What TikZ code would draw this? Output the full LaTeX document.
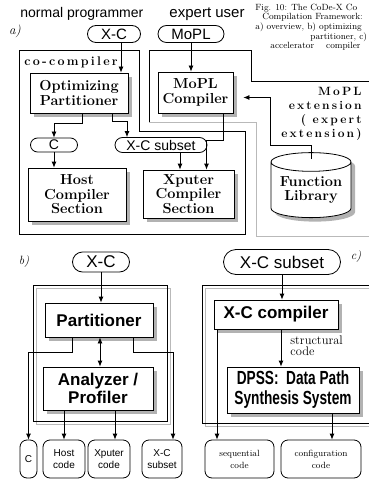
\documentclass[tikz,border=0pt]{standalone}
\usepackage{fontspec}
\setsansfont{Liberation Sans}
\newfontfamily\spacedfont{Latin Modern Roman}[LetterSpace=18]
\usepackage{tikz}
\usetikzlibrary{shapes,shapes.geometric,shapes.misc,shadows,arrows.meta}

\begin{document}
\begin{tikzpicture}[x=1pt,y=-1pt,>={Latex[length=6pt,width=5pt]},line width=0.8pt]
	\tikzset{pill/.style={draw,fill=white,rounded rectangle,inner sep=0pt,font=\sffamily\fontsize{15}{15}\selectfont}}
	\tikzset{outbox/.style={draw,fill=white,rounded corners=7pt,inner sep=0pt,align=center,minimum height=38pt}}
	\tikzset{serifbox/.style={draw,fill=white,inner sep=0pt,align=center,font=\bfseries\fontsize{14.5}{14.5}\selectfont,drop shadow={shadow xshift=4pt,shadow yshift=-4pt,fill=gray!60,opacity=1}}}
	\tikzset{sansbox/.style={serifbox,font=\sffamily\bfseries\fontsize{17}{18}\selectfont}}
	\tikzset{spaced/.style={inner sep=0pt,font=\spacedfont\bfseries\fontsize{12}{14}\selectfont}}
	\tikzset{frameshadow/.style={gray!55,line width=1pt}}
	\useasboundingbox (0,0) rectangle (368,481);

	% a) overview
	\node[anchor=west,inner sep=0pt,font=\sffamily\fontsize{14}{14}\selectfont] (np) at (20,14) {normal programmer};
	\node[font=\sffamily\fontsize{15}{15}\selectfont] (eu) at (207,14) {expert user};
	\node[anchor=north west,inner sep=0pt,align=left,font=\fontsize{9}{7.6}\selectfont] (cap) at (255,4) {Fig. 10: The CoDe-X Co\\
		\hspace*{7pt}Compilation Framework:\\
		a) overview, b) optimizing\\
		\hspace*{55pt}partitioner, c)\\
		\hspace*{15pt}accelerator\hspace{12pt}compiler};
	\node[font=\itshape\fontsize{13}{13}\selectfont] (la) at (15,31) {a)};
	\node[pill,minimum width=53pt,minimum height=17pt] (xca) at (114,34) {X-C};
	\node[pill,minimum width=66pt,minimum height=17pt] (mopl) at (191,34) {MoPL};

	\draw (19,50) -- (139,50) -- (139,131) -- (245,131) -- (245,234) -- (19,234) -- cycle;
	\draw (149,123) -- (149,50) -- (251,50) -- (251,81) -- (370,81);
	\draw[frameshadow] (149,123) -- (256,123) -- (256,236) -- (370,236);
	\node[spaced,anchor=west,font=\spacedfont\bfseries\fontsize{12.5}{14}\selectfont] (cc) at (24,62) {co-compiler};

	\node[serifbox,minimum width=98pt,minimum height=40pt] (opt) at (79,93) {Optimizing\\Partitioner};
	\node[serifbox,minimum width=75pt,minimum height=41pt] (mcomp) at (195.5,92.5) {MoPL\\Compiler};
	\node[pill,font=\sffamily\fontsize{14}{14}\selectfont,minimum width=47pt,minimum height=14pt] (cpill) at (54,145) {C};
	\node[pill,font=\sffamily\fontsize{14}{14}\selectfont,minimum width=92pt,minimum height=15pt] (xcsub) at (161,145) {X-C subset};
	\node[serifbox,minimum width=98pt,minimum height=53pt] (host) at (77,194.5) {Host\\Compiler\\Section};
	\node[serifbox,minimum width=91pt,minimum height=48pt] (xput) at (188.5,194) {Xputer\\Compiler\\Section};
	\node[spaced,anchor=north east,align=right] (ext) at (362,87) {MoPL\\extension\\( expert\\extension)};
	\node[draw,fill=white,cylinder,shape border rotate=90,aspect=0.3,minimum width=80pt,minimum height=65pt,inner sep=0pt,align=center,font=\bfseries\fontsize{14.5}{14.5}\selectfont,drop shadow={shadow xshift=4pt,shadow yshift=-4pt,fill=gray!60,opacity=1}] (flib) at (311,190) {Function\\Library};
	\coordinate (bend) at (270,145);

	\draw[->] ([xshift=7pt]xca.south) -- ([xshift=7pt]xca.south |- opt.north);
	\draw[->] (mopl.south) -- (mopl.south |- mcomp.north);
	\draw[->] ([xshift=3pt]opt.south) -- ++(0,10) -| (cpill.north);
	\draw[->] ([xshift=33pt]opt.south) -- ++(0,8) -| ([xshift=-34pt]xcsub.north);
	\draw[->] (cpill.south) -- (cpill.south |- host.north);
	\draw[->] ([xshift=19pt]xcsub.south) -- ([xshift=19pt]xcsub.south |- xput.north);
	\draw[->] ([xshift=28pt]mcomp.south) -- ++(0,27) -| ([xshift=18pt]xput.north);
	\draw[->] ([yshift=-7pt]flib.north) |- (bend) |- ([xshift=10pt,yshift=-5pt]mcomp.east);

	% b) optimizing partitioner
	\node[font=\itshape\fontsize{12}{12}\selectfont] (lb) at (24,262) {b)};
	\node[pill,font=\sffamily\fontsize{17}{17}\selectfont,minimum width=57pt,minimum height=20pt] (xcb) at (101,262) {X-C};
	\draw[frameshadow] (36,288) rectangle (170,424);
	\draw (33,285) rectangle (167,421);
	\node[sansbox,minimum width=108pt,minimum height=34pt] (part) at (99,320) {Partitioner};
	\node[sansbox,minimum width=110pt,minimum height=43pt] (ana) at (98,388.5) {Analyzer /\\Profiler};
	\node[outbox,font=\sffamily\fontsize{10}{12}\selectfont,minimum width=17pt] (cb) at (28.5,459) {C};
	\node[outbox,font=\sffamily\fontsize{10}{12}\selectfont,minimum width=42pt] (hc) at (64,459) {Host\\code};
	\node[outbox,font=\sffamily\fontsize{10}{12}\selectfont,minimum width=42pt] (xc) at (109,459) {Xputer\\code};
	\node[outbox,font=\sffamily\fontsize{10}{12}\selectfont,minimum width=40pt] (xs) at (162,459) {X-C\\subset};

	\draw[->] (xcb.south) -- (xcb.south |- part.north);
	\draw[<->] ([xshift=1pt]part.south) -- ([xshift=1pt]part.south |- ana.north);
	\draw[->] ([xshift=-27pt]part.south) -- ++(0,15) -| (cb.north);
	\draw[->] ([xshift=34pt]part.south) -- ++(0,15) -| ([xshift=11pt]xs.north);
	\draw[->] (ana.south -| hc) -- (hc.north);
	\draw[->] ([xshift=17pt]ana.south) -- ([xshift=17pt]ana.south |- xc.north);

	% c) accelerator compiler
	\node[font=\itshape\fontsize{12}{12}\selectfont] (lc) at (356,257) {c)};
	\node[pill,font=\sffamily\fontsize{17}{17}\selectfont,minimum width=117pt,minimum height=25pt] (xcs) at (282,262) {X-C subset};
	\draw[frameshadow] (205,288) rectangle (378,426);
	\draw (202,285) rectangle (375,423);
	\node[sansbox,minimum width=124pt,minimum height=29pt] (xcc) at (276,314.5) {X-C compiler};
	\node[sansbox,minimum width=132pt,minimum height=46pt,font=\sffamily\bfseries\fontsize{19}{20}\selectfont\addfontfeature{FakeStretch=0.72}] (dpss) at (293,390) {DPSS:\ \ Data Path\\Synthesis System};
	\node[outbox,font=\fontsize{9}{12}\selectfont,minimum width=69pt] (seq) at (239.5,459) {sequential\\code};
	\node[outbox,font=\fontsize{9}{12}\selectfont,minimum width=80pt] (conf) at (321,459) {configuration\\code};

	\draw[->] (xcs.south) -- (xcs.south |- xcc.north);
	\draw[->] ([xshift=5pt]xcc.south) -- ([xshift=5pt]xcc.south |- dpss.north) node[pos=0.45,right,align=left,inner sep=0pt,xshift=9pt,font=\fontsize{12.5}{11}\selectfont] {structural\\code};
	\draw[->] ([xshift=-59pt]xcc.south) -- ([xshift=-59pt]xcc.south |- seq.north);
	\draw[->] ([xshift=39pt]dpss.south) -- ([xshift=39pt]dpss.south |- conf.north);
\end{tikzpicture}
\end{document}
